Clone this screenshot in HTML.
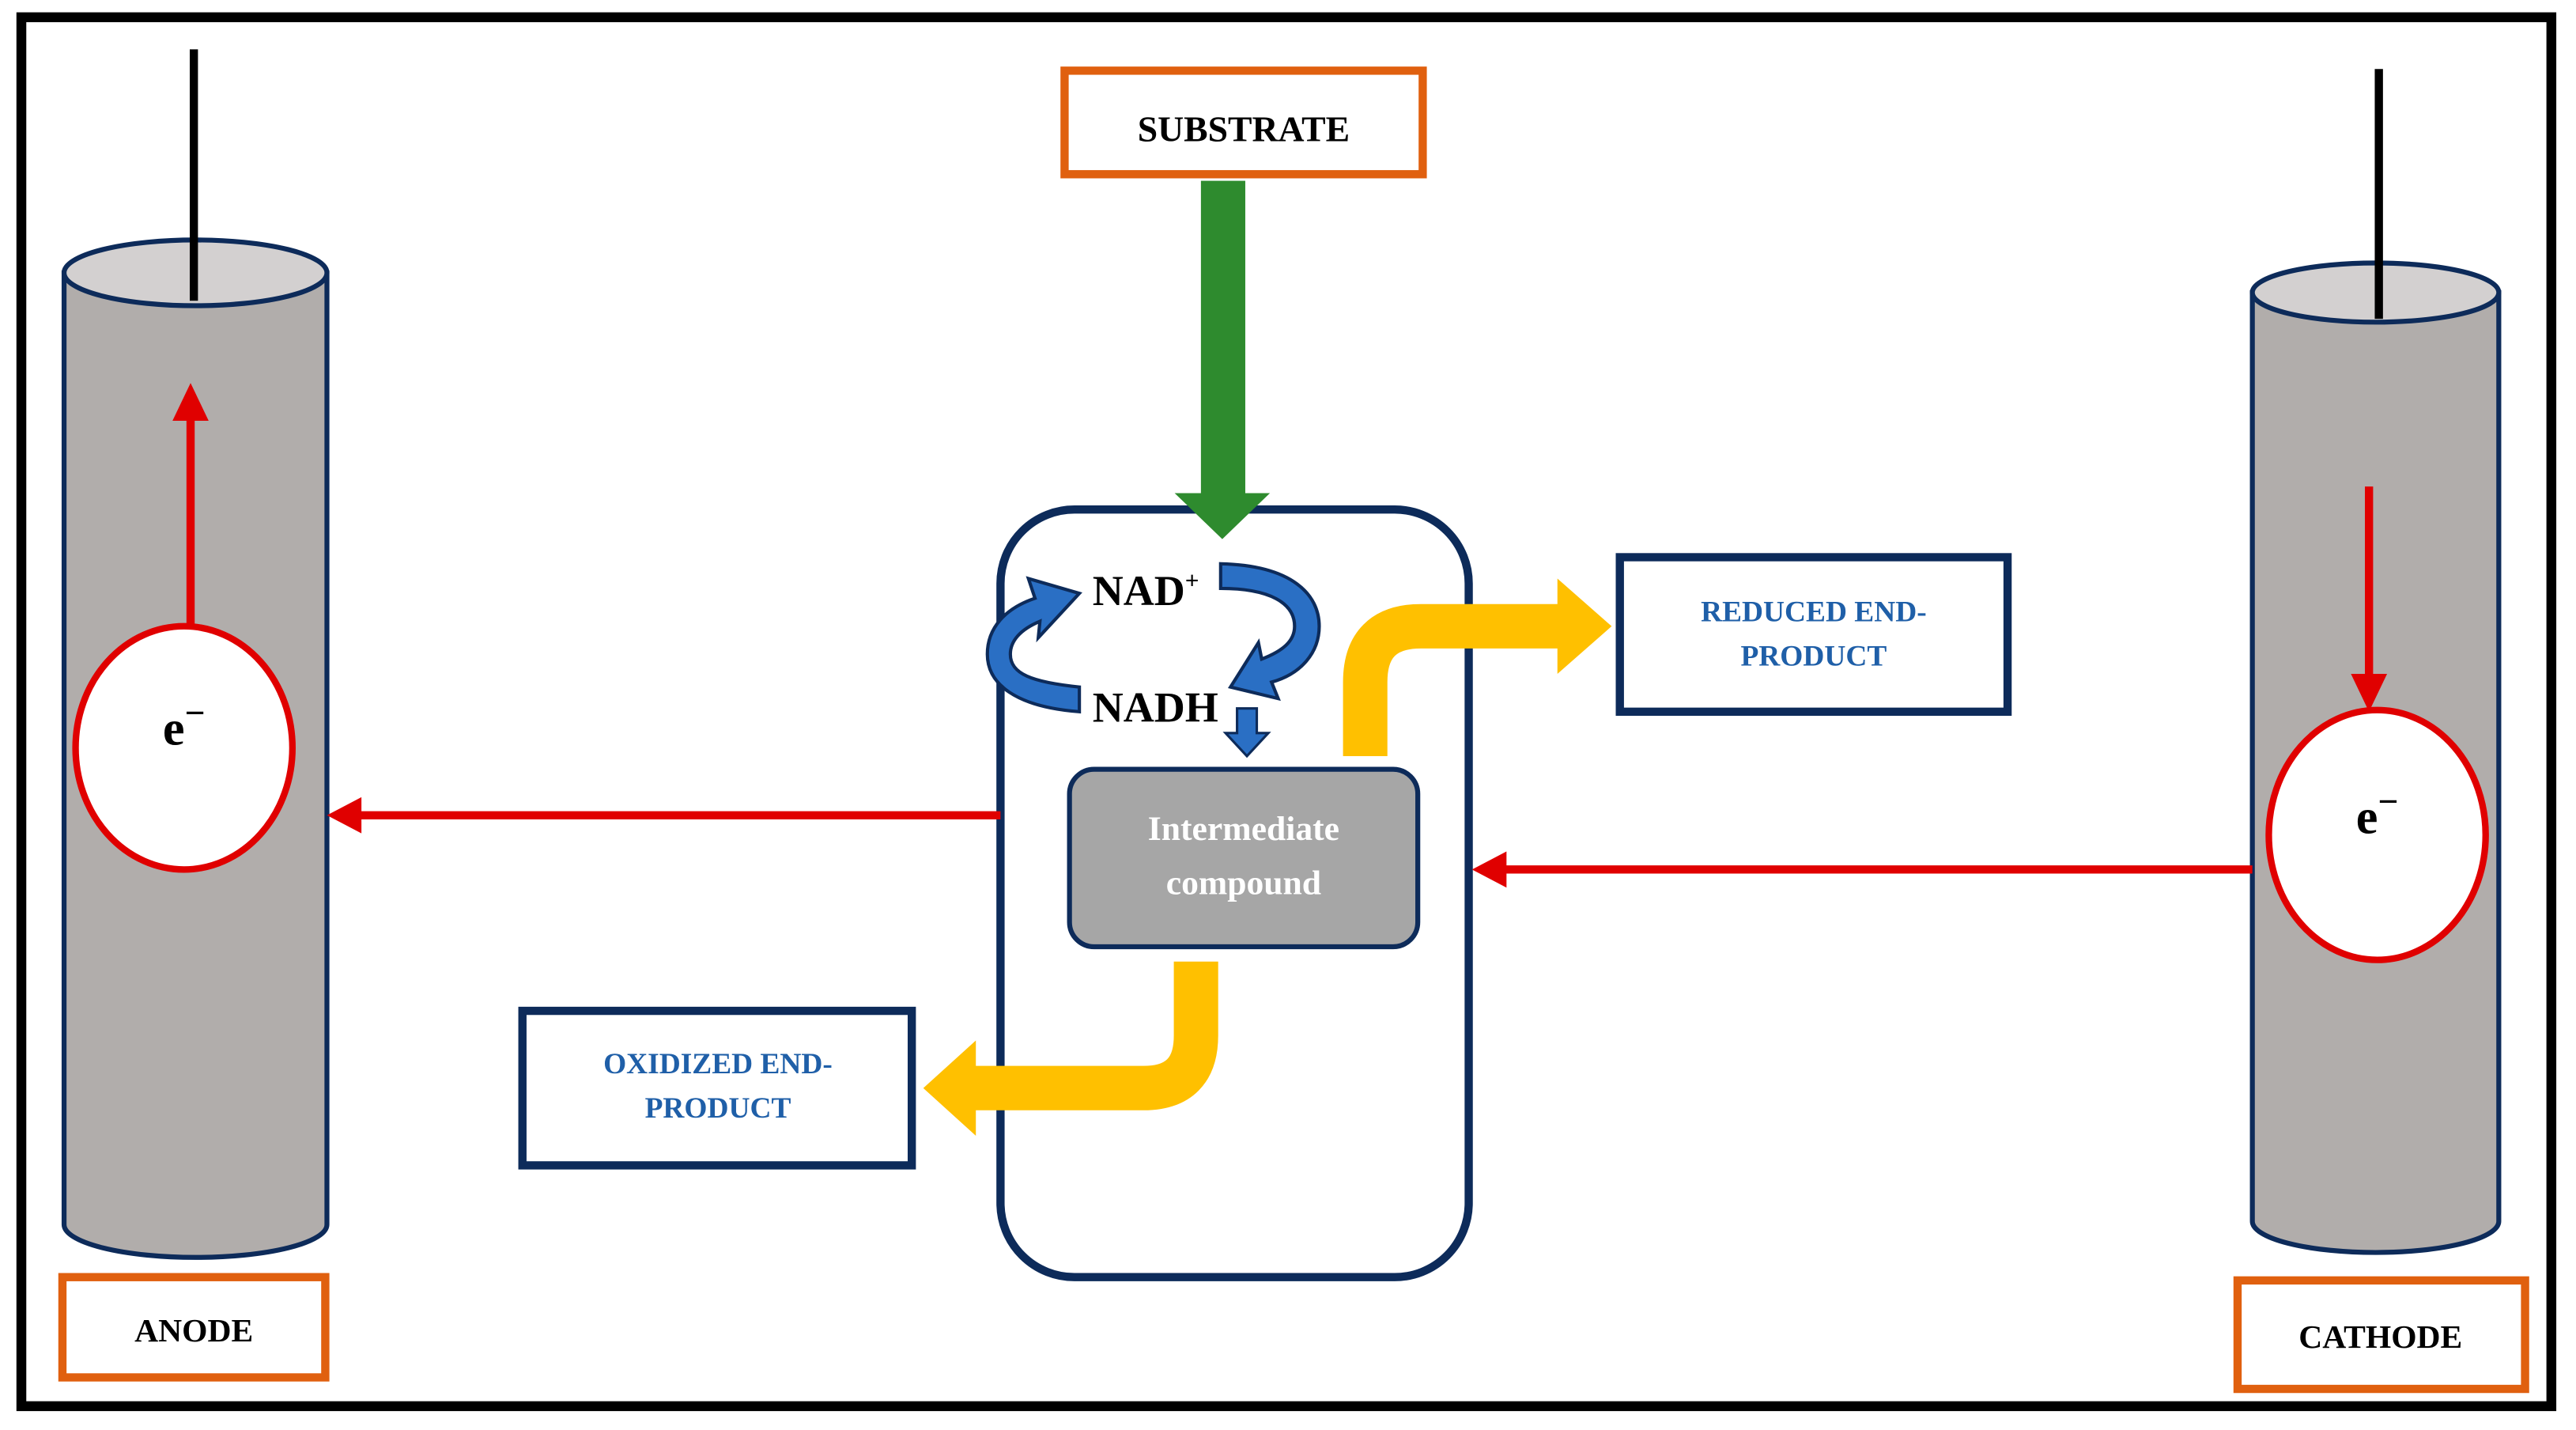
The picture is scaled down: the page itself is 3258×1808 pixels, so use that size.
<!DOCTYPE html>
<html><head><meta charset="utf-8"><style>
html,body{margin:0;padding:0;background:#fff;}
svg{display:block;}
text{font-family:"Liberation Serif",serif;font-weight:bold;}
</style></head><body>
<svg width="3258" height="1808" viewBox="0 0 1568 870" preserveAspectRatio="none" xmlns="http://www.w3.org/2000/svg">
<rect x="0" y="0" width="1568" height="870" fill="#fff"/>
<rect x="13" y="10.5" width="1540" height="845" fill="none" stroke="#000" stroke-width="6"/>

<!-- Anode cylinder -->
<path d="M39,166 L39,745 A80,20 0 0 0 199,745 L199,166 Z" fill="#b1adab" stroke="#0d2b5a" stroke-width="3"/>
<ellipse cx="119" cy="166" rx="80" ry="20" fill="#d3d0d0" stroke="#0d2b5a" stroke-width="3"/>
<line x1="118" y1="30" x2="118" y2="183" stroke="#000" stroke-width="5"/>
<line x1="116" y1="380" x2="116" y2="255" stroke="#e00000" stroke-width="5"/>
<polygon points="105,256 127,256 116,233" fill="#e00000"/>
<ellipse cx="112" cy="455" rx="66" ry="74" fill="#fff" stroke="#e00000" stroke-width="4"/>
<text x="112" y="453" font-size="30" text-anchor="middle">e<tspan font-size="22" dy="-12">−</tspan></text>

<!-- Cathode cylinder -->
<path d="M1371,178 L1371,743 A75,19 0 0 0 1521,743 L1521,178 Z" fill="#b1adab" stroke="#0d2b5a" stroke-width="3"/>
<ellipse cx="1446" cy="178" rx="75" ry="18" fill="#d3d0d0" stroke="#0d2b5a" stroke-width="3"/>
<line x1="1448" y1="42" x2="1448" y2="194" stroke="#000" stroke-width="5"/>
<line x1="1442" y1="296" x2="1442" y2="412" stroke="#e00000" stroke-width="5"/>
<polygon points="1431,410 1453,410 1442,433" fill="#e00000"/>
<ellipse cx="1447" cy="508" rx="66" ry="76" fill="#fff" stroke="#e00000" stroke-width="4"/>
<text x="1447" y="507" font-size="30" text-anchor="middle">e<tspan font-size="22" dy="-12">−</tspan></text>

<!-- labels -->
<rect x="38" y="777" width="160" height="61" fill="#fff" stroke="#e0600f" stroke-width="5"/>
<text x="118" y="816" font-size="20" text-anchor="middle">ANODE</text>
<rect x="1362" y="779" width="175" height="66" fill="#fff" stroke="#e0600f" stroke-width="5"/>
<text x="1449" y="820" font-size="20" text-anchor="middle">CATHODE</text>
<rect x="648" y="43" width="218" height="63" fill="#fff" stroke="#e0600f" stroke-width="5"/>
<text x="757" y="86" font-size="22" text-anchor="middle">SUBSTRATE</text>

<!-- cell -->
<rect x="609" y="310" width="285" height="467" rx="45" ry="45" fill="#fff" stroke="#0d2b5a" stroke-width="5"/>

<!-- green arrow -->
<rect x="731" y="110" width="27" height="192" fill="#2e8b2e"/>
<polygon points="715,300 773,300 744,328" fill="#2e8b2e"/>

<!-- red horizontal arrows -->
<line x1="609" y1="496" x2="218" y2="496" stroke="#e00000" stroke-width="5"/>
<polygon points="220,485 220,507 199,496" fill="#e00000"/>
<line x1="1371" y1="529" x2="915" y2="529" stroke="#e00000" stroke-width="5"/>
<polygon points="917,518 917,540 896,529" fill="#e00000"/>

<!-- yellow arrows -->
<path d="M831,460 L831,415 Q831,381 865,381 L950,381" fill="none" stroke="#ffc000" stroke-width="27"/>
<polygon points="948,352 948,410 981,381" fill="#ffc000"/>
<path d="M728,585 L728,630 Q728,662 696,662 L592,662" fill="none" stroke="#ffc000" stroke-width="27"/>
<polygon points="594,633 594,691 562,662" fill="#ffc000"/>

<!-- intermediate -->
<rect x="651" y="468" width="212" height="108" rx="15" ry="15" fill="#a6a6a6" stroke="#0d2b5a" stroke-width="3"/>
<text x="757" y="511" font-size="21" fill="#fff" text-anchor="middle">Intermediate</text>
<text x="757" y="544" font-size="21" fill="#fff" text-anchor="middle">compound</text>

<!-- result boxes -->
<rect x="986" y="339" width="236" height="94" fill="#fff" stroke="#0d2b5a" stroke-width="5"/>
<text x="1104" y="378" font-size="18" fill="#1f5fa8" text-anchor="middle">REDUCED END-</text>
<text x="1104" y="405" font-size="18" fill="#1f5fa8" text-anchor="middle">PRODUCT</text>
<rect x="318" y="615" width="237" height="94" fill="#fff" stroke="#0d2b5a" stroke-width="5"/>
<text x="437" y="653" font-size="18" fill="#1f5fa8" text-anchor="middle">OXIDIZED END-</text>
<text x="437" y="680" font-size="18" fill="#1f5fa8" text-anchor="middle">PRODUCT</text>

<!-- NAD cycle arrows -->
<path d="M657,433 C618,430 601,416 601,398 C601,382 612,370 630,364 L626,352 L657,361 L632,388 L633,378 C621,383 615,390 615,398 C615,410 628,415 657,418 Z" fill="#2a6fc4" stroke="#0d2b5a" stroke-width="2"/>
<path d="M743,343 C787,344 803,362 803,381 C803,397 792,410 774,415 L778,425 L749,418 L766,391 L768,401 C781,396 788,390 788,381 C788,367 773,358 743,358 Z" fill="#2a6fc4" stroke="#0d2b5a" stroke-width="2"/>
<path d="M753,431 L765,431 L765,446 L772,446 L759,460 L746,446 L753,446 Z" fill="#2a6fc4" stroke="#0d2b5a" stroke-width="1.5"/>
<text x="665" y="368" font-size="26">NAD<tspan font-size="15" dy="-10">+</tspan></text>
<text x="665" y="439" font-size="26">NADH</text>
</svg>
</body></html>
